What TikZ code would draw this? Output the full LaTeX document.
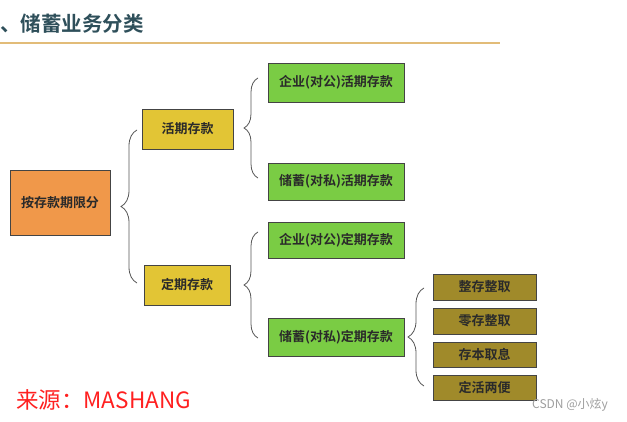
\documentclass[tikz,border=0pt]{standalone}
\usepackage{fontspec}
\setmainfont{Noto Sans CJK SC}[BoldFont={Noto Sans CJK SC Bold}]
\usetikzlibrary{decorations.pathreplacing}
\definecolor{titlec}{HTML}{2E4F5A}
\definecolor{rulec}{HTML}{E2BC78}
\definecolor{orangec}{HTML}{F0984A}
\definecolor{yellowc}{HTML}{E2C535}
\definecolor{greenc}{HTML}{7ACC44}
\definecolor{olivec}{HTML}{A08A2A}
\definecolor{edgec}{HTML}{444444}
\definecolor{bracec}{HTML}{555555}
\definecolor{txtc}{HTML}{2A2A2A}
\definecolor{redc}{HTML}{FF2020}
\tikzset{
  box/.style={draw=edgec, line width=0.9pt, inner sep=0pt, text=txtc,
    font=\fontsize{13}{13}\selectfont\bfseries},
  orangebox/.style={box, fill=orangec},
  yellowbox/.style={box, fill=yellowc},
  greenbox/.style={box, fill=greenc, minimum width=136pt},
  olivebox/.style={box, fill=olivec, minimum width=103pt},
  bracket/.style={draw=bracec, line width=0.8pt, decorate,
    decoration={brace, amplitude=#1}}
}
\begin{document}
\begin{tikzpicture}[x=1pt, y=-1pt]
\useasboundingbox (0,0) rectangle (627,422);
% title
\node[anchor=west, inner sep=0pt, text=titlec, font=\fontsize{20.5}{20.5}\selectfont\bfseries] (title) at (0,24) {、储蓄业务分类};
\coordinate (r1) at (0,43);
\coordinate (r2) at (500,43);
\draw[rulec, line width=2pt] (r1) -- (r2);
% boxes
\node[orangebox, minimum width=100pt, minimum height=65pt] (root) at (60,202.5) {按存款期限分};
\node[yellowbox, minimum width=91pt, minimum height=40pt] (huo) at (187.5,129) {活期存款};
\node[yellowbox, minimum width=86pt, minimum height=40pt] (ding) at (187,285) {定期存款};
\node[greenbox, minimum height=39pt] (g1) at (336,82.5) {企业(对公)活期存款};
\node[greenbox, minimum height=37pt] (g2) at (336,181.5) {储蓄(对私)活期存款};
\node[greenbox, minimum height=36pt] (g3) at (336,240) {企业(对公)定期存款};
\node[greenbox, minimum height=38pt] (g4) at (336,337) {储蓄(对私)定期存款};
\node[olivebox, minimum height=26pt] (o1) at (484.5,287) {整存整取};
\node[olivebox, minimum height=26pt] (o2) at (484.5,321) {零存整取};
\node[olivebox, minimum height=25pt] (o3) at (484.5,354.5) {存本取息};
\node[olivebox, minimum height=25pt] (o4) at (484.5,387.5) {定活两便};
% braces
\coordinate (b1s) at (137,283); \coordinate (b1e) at (137,130);
\coordinate (b2s) at (258,178); \coordinate (b2e) at (258,78);
\coordinate (b3s) at (258,338); \coordinate (b3e) at (258,232);
\coordinate (b4s) at (424,386); \coordinate (b4e) at (424,288);
\draw[bracket=16pt] (b1s) -- (b1e);
\draw[bracket=14pt] (b2s) -- (b2e);
\draw[bracket=14pt] (b3s) -- (b3e);
\draw[bracket=16pt] (b4s) -- (b4e);
% footer texts
\node[anchor=west, inner sep=0pt, text=redc, font=\fontsize{22.5}{22.5}\selectfont] (src) at (16,400) {来源：MASHANG};
\node[anchor=west, inner sep=0pt, text=black!38, font=\fontsize{12}{12}\selectfont] (wm) at (532,405) {CSDN @小炫y};
\end{tikzpicture}
\end{document}
